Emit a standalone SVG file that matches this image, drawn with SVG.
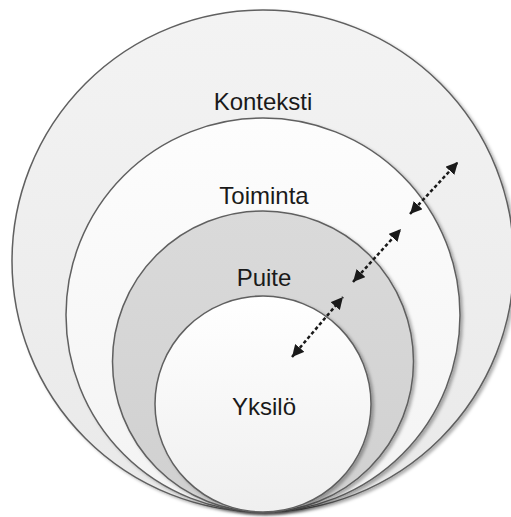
<svg xmlns="http://www.w3.org/2000/svg" width="511" height="517" viewBox="0 0 511 517">
  <defs>
    <linearGradient id="gOuter" x1="0" y1="0" x2="0" y2="1">
      <stop offset="0" stop-color="#f3f3f3"/>
      <stop offset="1" stop-color="#e9e9e9"/>
    </linearGradient>
    <linearGradient id="gToim" x1="0" y1="0" x2="0" y2="1">
      <stop offset="0" stop-color="#fdfdfd"/>
      <stop offset="1" stop-color="#f3f3f3"/>
    </linearGradient>
    <linearGradient id="gPuite" x1="0" y1="0" x2="0" y2="1">
      <stop offset="0" stop-color="#dadada"/>
      <stop offset="1" stop-color="#d0d0d0"/>
    </linearGradient>
    <linearGradient id="gYks" x1="0" y1="0" x2="0" y2="1">
      <stop offset="0" stop-color="#ffffff"/>
      <stop offset="1" stop-color="#efefef"/>
    </linearGradient>
    <filter id="shadow" x="-10%" y="-10%" width="120%" height="120%">
      <feDropShadow dx="2.5" dy="2" stdDeviation="1.5" flood-color="#000" flood-opacity="0.3"/>
    </filter>
    <marker id="ah" viewBox="0 0 10 10" refX="10" refY="5" markerUnits="userSpaceOnUse" markerWidth="12" markerHeight="12" orient="auto-start-reverse">
      <path d="M0,0 L10,5 L0,10 z" fill="#1a1a1a"/>
    </marker>
  </defs>
  <style>
    .ring { stroke: #606060; stroke-width: 1.5; filter: url(#shadow); }
    .lbl { font-family: "Liberation Sans", Arial, sans-serif; font-size: 24px; fill: #1a1a1a; text-anchor: middle; }
    .arr { stroke: #1a1a1a; stroke-width: 2.5; stroke-dasharray: 3.5 2.5; fill: none; marker-start: url(#ah); marker-end: url(#ah); }
  </style>
  <g id="konteksti">
    <circle class="ring" cx="263" cy="261" r="251" fill="url(#gOuter)"/>
    <text class="lbl" x="263" y="110">Konteksti</text>
  </g>
  <g id="toiminta">
    <circle class="ring" cx="263" cy="315" r="197" fill="url(#gToim)"/>
    <text class="lbl" x="264" y="204">Toiminta</text>
  </g>
  <g id="puite">
    <circle class="ring" cx="263" cy="361.5" r="150.5" fill="url(#gPuite)"/>
    <text class="lbl" x="264" y="286">Puite</text>
  </g>
  <g id="yksilo">
    <circle class="ring" cx="263" cy="404" r="108" fill="url(#gYks)"/>
    <text class="lbl" x="264" y="415">Yksilö</text>
  </g>
  <g id="connectors">
    <line class="arr" x1="410" y1="214" x2="458" y2="162"/>
    <line class="arr" x1="353" y1="282" x2="401" y2="229"/>
    <line class="arr" x1="292" y1="357" x2="343" y2="297"/>
  </g>
</svg>
